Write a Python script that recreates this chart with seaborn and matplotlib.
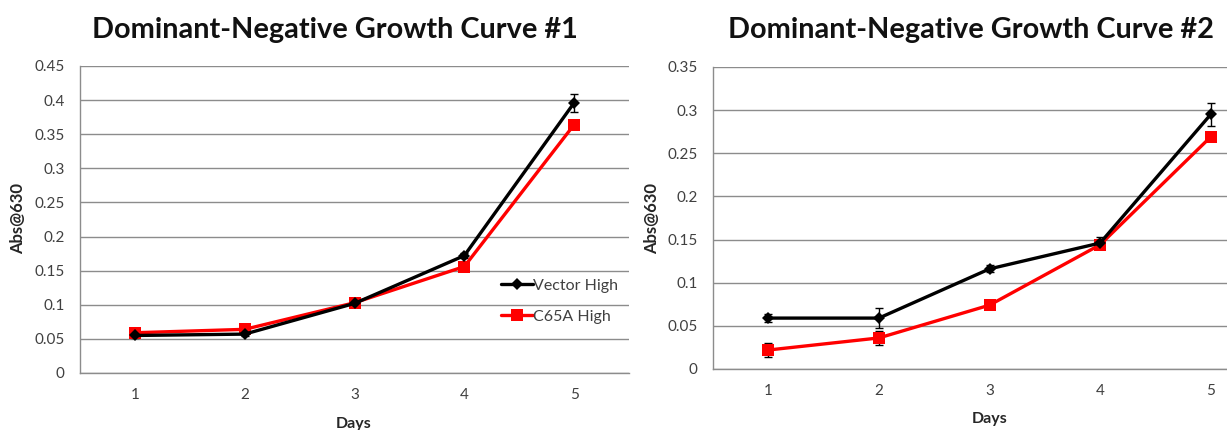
import matplotlib
matplotlib.use("Agg")
import matplotlib.pyplot as plt
import seaborn as sns
import pandas as pd
import numpy as np
from matplotlib.ticker import FixedLocator

sns.set_style("white")
plt.rcParams["font.family"] = ["Lato", "DejaVu Sans"]

days = [1, 2, 3, 4, 5]
series_names = ["Vector High", "C65A High"]

# Curve #1
c1_vector = [0.055, 0.057, 0.102, 0.172, 0.396]
c1_vector_err = [0.003, 0.003, 0.003, 0.004, 0.013]
c1_c65a = [0.059, 0.064, 0.103, 0.156, 0.364]
c1_c65a_err = [0.003, 0.003, 0.003, 0.003, 0.003]

# Curve #2
c2_vector = [0.059, 0.059, 0.116, 0.146, 0.295]
c2_vector_err = [0.005, 0.012, 0.004, 0.007, 0.013]
c2_c65a = [0.022, 0.036, 0.074, 0.144, 0.269]
c2_c65a_err = [0.008, 0.008, 0.004, 0.003, 0.003]

titles = ["Dominant-Negative Growth Curve #1", "Dominant-Negative Growth Curve #2"]

colors = {"Vector High": "#000000", "C65A High": "#ff0000"}
markers = {"Vector High": "D", "C65A High": "s"}
marker_sizes = {"D": 6.5, "s": 9}

W, H = 1227, 430
fig = plt.figure(figsize=(W / 100, H / 100), dpi=100)


def build(vec, c65):
    return pd.DataFrame({
        "Days": days * 2,
        "Abs": vec + c65,
        "Series": ["Vector High"] * 5 + ["C65A High"] * 5,
    })


def fmt_tick(v):
    return "0" if v < 1e-9 else f"{v:.2f}".rstrip("0")


def draw(rect, vec, vec_err, c65, c65_err, ymax, legend):
    ax = fig.add_axes(rect)
    df = build(vec, c65)
    # error bars sit under the series markers
    for vals, errs in [(c65, c65_err), (vec, vec_err)]:
        ax.errorbar(days, vals, yerr=errs, fmt="none", ecolor="black",
                    elinewidth=1, capsize=3, capthick=1, zorder=2.5)
    sns.lineplot(data=df, x="Days", y="Abs", hue="Series", style="Series",
                 hue_order=series_names, style_order=series_names,
                 palette=colors, markers=markers, dashes=False,
                 linewidth=2.4, markersize=8, markeredgewidth=0,
                 legend=legend, ax=ax, zorder=3)
    for line in ax.lines:
        m = line.get_marker()
        if m in marker_sizes:
            line.set_markersize(marker_sizes[m])
            line.set_zorder(4 if m == "D" else 3)

    ax.set_xlim(0.5, 5.5)
    ax.set_ylim(0, ymax)
    yt = np.arange(0, ymax + 1e-9, 0.05)
    ax.set_yticks(yt)
    ax.set_yticklabels([fmt_tick(v) for v in yt])
    ax.set_xticks(days)
    ax.set_xticklabels([str(d) for d in days])
    ax.xaxis.set_minor_locator(FixedLocator([0.5, 1.5, 2.5, 3.5, 4.5, 5.5]))
    ax.tick_params(axis="x", which="major", length=0, pad=11, labelsize=11, colors="#404040")
    ax.tick_params(axis="x", which="minor", length=5, width=1, color="#8c8c8c", direction="out")
    ax.tick_params(axis="y", which="major", length=5, width=1, color="#8c8c8c", pad=6,
                   labelsize=11, labelcolor="#404040", direction="out")
    ax.grid(axis="y", color="#8c8c8c", linewidth=1)
    ax.grid(axis="x", visible=False)
    ax.set_axisbelow(True)
    for s in ["top", "right"]:
        ax.spines[s].set_visible(False)
    for s in ["left", "bottom"]:
        ax.spines[s].set_color("#8c8c8c")
        ax.spines[s].set_linewidth(1)
    ax.set_xlabel("")
    ax.set_ylabel("")
    if legend:
        handles = ax.get_legend().legend_handles
        ax.legend(handles=handles, labels=series_names, frameon=False, loc="upper left",
                  bbox_to_anchor=(0.74, 0.355), fontsize=11.5, handlelength=2.0,
                  handletextpad=0.05, labelspacing=1.05, labelcolor="#404040")
        leg = ax.get_legend()
        for h in leg.legend_handles:
            h.set_markersize(marker_sizes.get(h.get_marker(), 8))
            h.set_linewidth(2.4)
    return ax


ax1 = draw([80 / W, (H - 373) / H, 549 / W, 307 / H],
           c1_vector, c1_vector_err, c1_c65a, c1_c65a_err, 0.45, True)
ax2 = draw([713 / W, (H - 369) / H, 553 / W, 302 / H],
           c2_vector, c2_vector_err, c2_c65a, c2_c65a_err, 0.35, False)

# Titles and axis labels
fig.text(335 / W, 1 - 30 / H, titles[0], ha="center", va="center",
         fontsize=20.8, fontweight="bold", color="#111111")
fig.text(971 / W, 1 - 30 / H, titles[1], ha="center", va="center",
         fontsize=20.8, fontweight="bold", color="#111111")
fig.text(18 / W, 1 - 218 / H, "Abs@630", rotation=90, ha="center", va="center",
         fontsize=12, fontweight="bold", color="#262626")
fig.text(652 / W, 1 - 218 / H, "Abs@630", rotation=90, ha="center", va="center",
         fontsize=12, fontweight="bold", color="#262626")
fig.text(354 / W, 1 - 424 / H, "Days", ha="center", va="center",
         fontsize=11.5, fontweight="bold", color="#262626")
fig.text(990 / W, 1 - 419 / H, "Days", ha="center", va="center",
         fontsize=11.5, fontweight="bold", color="#262626")

fig.savefig("out.png", dpi=100, facecolor="white")
